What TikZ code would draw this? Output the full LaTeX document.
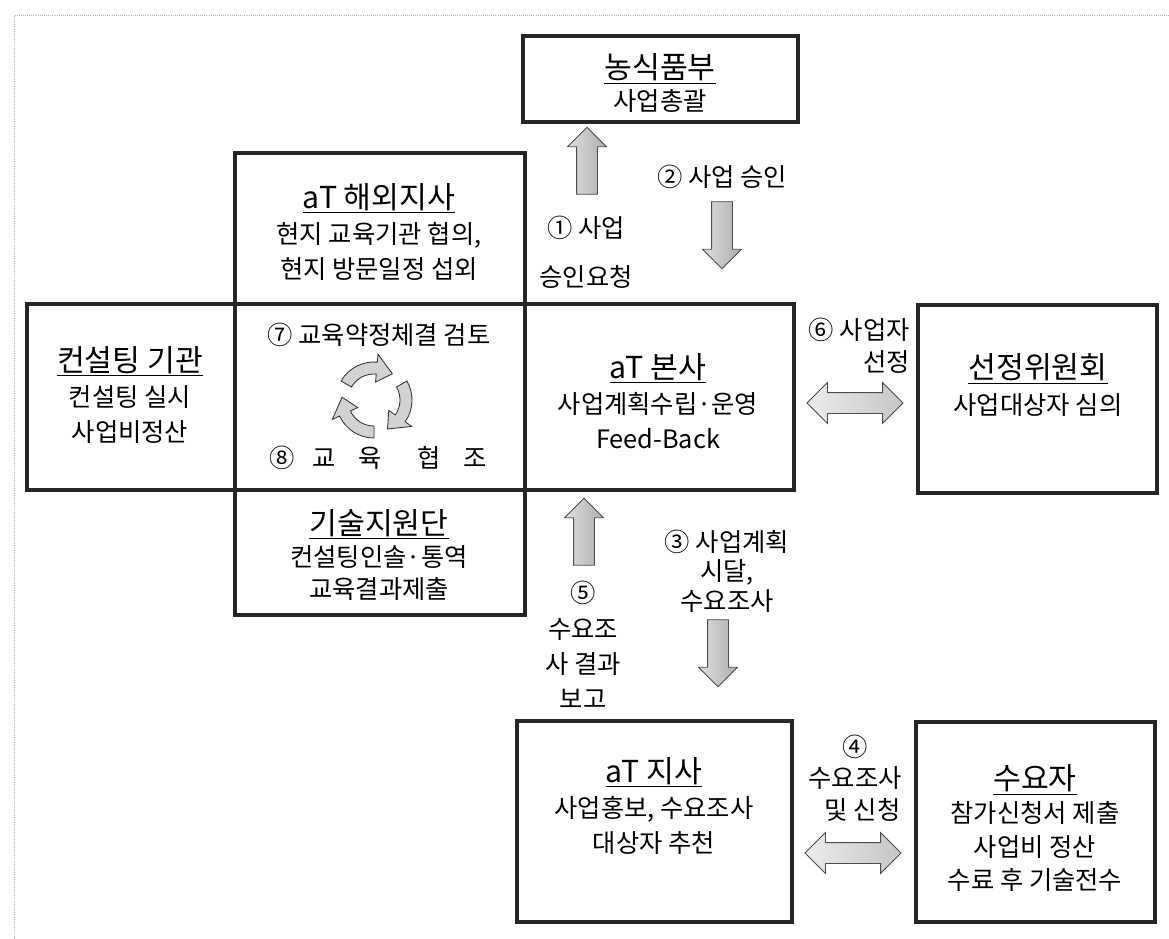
\documentclass[tikz,border=0pt]{standalone}
\usepackage{fontspec}
\setmainfont{Noto Sans CJK KR}
\usetikzlibrary{calc}
\usetikzlibrary{fit}
\usetikzlibrary{shapes.arrows}

\newcommand{\boxtitle}[1]{{\fontsize{21.5}{25}\selectfont\underline{#1}}}
% fat curved arrow, clockwise from #1 to #2 (degrees)
\newcommand{\cyclearrow}[2]{%
  \filldraw[cycfill] (#1:0.95cm) arc[start angle=#1, end angle=#2+30, radius=0.95cm]
    -- (#2+30:1.15cm) -- (#2:0.8cm) -- (#2+30:0.45cm) -- (#2+30:0.65cm)
    arc[start angle=#2+30, end angle=#1, radius=0.65cm] -- cycle;}

\begin{document}
\begin{tikzpicture}[x=0.025cm, y=-0.025cm,
    every node/.style={font=\fontsize{18}{25}\selectfont, align=center, inner sep=0pt},
    box/.style={draw=black!85, line width=2.4pt, inner sep=0pt},
    vblock/.style={single arrow, draw=black!70, line width=0.6pt, left color=gray!25, right color=gray!65,
        inner sep=0.25cm, minimum height=1.675cm, single arrow head extend=0.225cm},
    dblock/.style={double arrow, draw=black!70, line width=0.6pt, left color=gray!15, middle color=black!65,
        right color=gray!45, inner sep=0.25cm, minimum height=2.4cm, double arrow head extend=0.25cm},
    cycfill/.style={draw=black!80, line width=0.6pt, fill=gray!35}]
  \useasboundingbox (0,0) rectangle (1169,939);
  \draw[gray!60, line width=0.5pt, densely dotted] (1169,15) -- (14,15) -- (14,939);

  % boxes
  \node[box, fit={(523,36) (798,122)}] (min) {};
  \node[box, fit={(235,153) (525,304)}] (ovs) {};
  \node[box, fit={(27,304) (235,490)}] (con) {};
  \node[box, fit={(235,304) (525,490)}] (mid) {};
  \node[box, fit={(525,304) (794,490)}] (hq) {};
  \node[box, fit={(918,305) (1157,493)}] (sel) {};
  \node[box, fit={(235,490) (525,615)}] (sup) {};
  \node[box, fit={(517,721) (792,922)}] (br) {};
  \node[box, fit={(916,722) (1155,922)}] (usr) {};

  % box texts
  \node[font=\fontsize{18}{22.5}\selectfont] (minT) at (660,83) {\boxtitle{농식품부}\\사업총괄};
  \node (ovsT) at (379,232) {\boxtitle{aT 해외지사}\\현지 교육기관 협의,\\현지 방문일정 섭외};
  \node (conT) at (130,395) {\boxtitle{컨설팅 기관}\\컨설팅 실시\\사업비정산};
  \node (hqT) at (658,401) {\boxtitle{aT 본사}\\사업계획수립·운영\\Feed-Back};
  \node (selT) at (1038,385) {\boxtitle{선정위원회}\\사업대상자 심의};
  \node[font=\fontsize{18}{23}\selectfont] (supT) at (379,555) {\boxtitle{기술지원단}\\컨설팅인솔·통역\\교육결과제출};
  \node (brT) at (654,806) {\boxtitle{aT 지사}\\사업홍보, 수요조사\\대상자 추천};
  \node[font=\fontsize{18}{23.5}\selectfont] (usrT) at (1035,828) {\boxtitle{수요자}\\참가신청서 제출\\사업비 정산\\수료 후 기술전수};

  % block arrows
  \node[vblock, shape border rotate=90] (a1) at (587,166) {};
  \node[vblock, shape border rotate=270] (a2) at (722,230) {};
  \node[vblock, shape border rotate=90] (a5) at (584,537) {};
  \node[vblock, shape border rotate=270] (a3) at (718,648) {};
  \node[dblock] (a6) at (855,403) {};
  \node[dblock] (a4) at (853,853) {};

  % labels
  \node (l1) at (586,252) {① 사업\\[10pt]승인요청};
  \node (l2) at (722,177) {② 사업 승인};
  \node[anchor=east, align=right, font=\fontsize{18}{23}\selectfont] (l6) at (910,346) {⑥ 사업자\\선정};
  \node[font=\fontsize{18}{21}\selectfont] (l3) at (727,571) {③ 사업계획\\시달,\\수요조사};
  \node (l5) at (583,645) {⑤\\수요조\\사 결과\\보고};
  \node[font=\fontsize{18}{22.5}\selectfont] (l4) at (855,778) {④\\수요조사\\\hspace*{0.6em}및 신청};
  \node (l7) at (379,335) {⑦ 교육약정체결 검토};
  \node (l8) at (378,458) {⑧\hspace{0.7em}교\hspace{0.9em}육\hspace{1.4em}협\hspace{0.9em}조};

  % cycle
  \coordinate (cyc) at (374,400);
  \begin{scope}[shift={(cyc)}, x=1cm, y=1cm]
    \cyclearrow{150}{55}
    \cyclearrow{30}{-65}
    \cyclearrow{-90}{-185}
  \end{scope}
\end{tikzpicture}
\end{document}
